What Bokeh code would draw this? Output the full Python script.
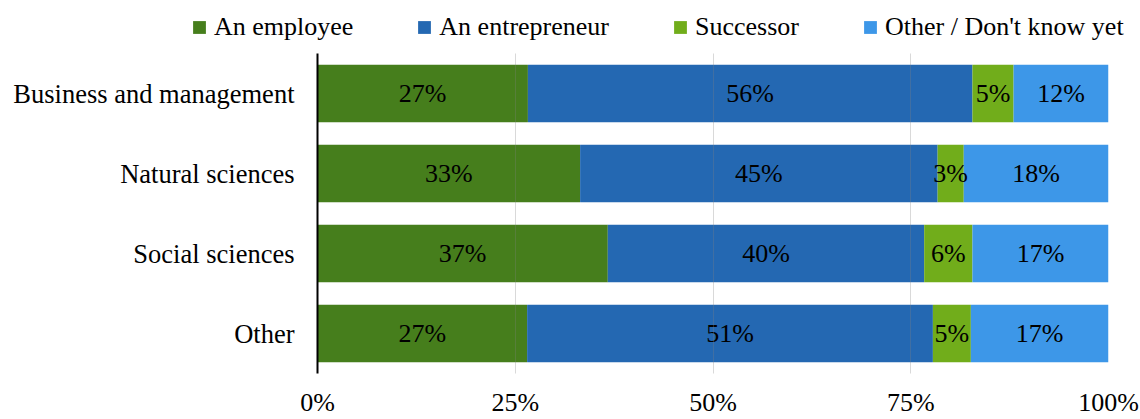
import numpy as np
from bokeh.plotting import figure
from bokeh.layouts import column
from bokeh.models import (ColumnDataSource, FactorRange, Range1d, FixedTicker,
                          Legend, LegendItem)
from bokeh.core.properties import value
from bokeh.embed import file_html
from bokeh.resources import INLINE

# ---- data ----
categories = ["Business and management", "Natural sciences", "Social sciences", "Other"]
series = ["An employee", "An entrepreneur", "Successor", "Other / Don't know yet"]
employee = [26.6, 33.2, 36.7, 26.5]
entrepreneur = [56.2, 45.2, 40.0, 51.3]
successor = [5.2, 3.3, 6.1, 4.8]
other_dk = [12.0, 18.3, 17.2, 17.4]
employee_lbl = ["27%", "33%", "37%", "27%"]
entrepreneur_lbl = ["56%", "45%", "40%", "51%"]
successor_lbl = ["5%", "3%", "6%", "5%"]
other_dk_lbl = ["12%", "18%", "17%", "17%"]
tick_values = [0, 25, 50, 75, 100]
tick_labels = ["0%", "25%", "50%", "75%", "100%"]

colors = ["#467E1C", "#2468B2", "#71AD1B", "#3D97E8"]
keys = ["employee", "entrepreneur", "successor", "other_dk"]
FONT = "Liberation Serif"

src = ColumnDataSource(dict(cat=categories, employee=employee, entrepreneur=entrepreneur,
                            successor=successor, other_dk=other_dk))

# ---- legend strip ----
lg = figure(width=1140, height=53, output_backend="svg", toolbar_location=None,
            x_range=Range1d(0, 1), y_range=Range1d(0, 1),
            x_axis_type=None, y_axis_type=None,
            min_border_left=0, min_border_right=0, min_border_top=0, min_border_bottom=0)
lg.frame_align = False
lg.outline_line_color = None
lg.grid.grid_line_color = None
# zero-width proxy bars: only used to give the legend its swatches
dummy = [lg.hbar(y=[0.5], left=[0], right=[0], height=0, fill_color=c, line_color=None)
         for c in colors]
legend = Legend(items=[LegendItem(label=s, renderers=[r]) for s, r in zip(series, dummy)],
                orientation="horizontal", location=(191, 11),
                glyph_width=16, glyph_height=16, label_standoff=7, spacing=63,
                padding=0, margin=0, border_line_color=None, background_fill_alpha=0,
                label_text_font=FONT, label_text_font_size="26px", label_text_color="#000000")
lg.add_layout(legend, "center")

# ---- main chart ----
p = figure(width=1140, height=366, output_backend="svg", toolbar_location=None,
           y_range=FactorRange(factors=list(reversed(categories)), range_padding=0),
           x_range=Range1d(0, 100),
           min_border_left=317, min_border_right=32, min_border_top=0, min_border_bottom=43)
p.frame_align = False
p.outline_line_color = None

renderers = p.hbar_stack(keys, y="cat", height=0.717, color=colors, line_color=None, source=src)

# bar labels
vals = np.array([employee, entrepreneur, successor, other_dk], dtype=float)
lbls = [employee_lbl, entrepreneur_lbl, successor_lbl, other_dk_lbl]
cum = np.cumsum(vals, axis=0)
left = cum - vals
xs, ys, ts = [], [], []
for i in range(len(series)):
    for j, c in enumerate(categories):
        xs.append(float(left[i, j] + vals[i, j] / 2))
        ys.append(c)
        ts.append(lbls[i][j])
p.text(x=xs, y=ys, text=ts, text_align="center", text_baseline="middle",
       text_font=value(FONT), text_font_size="26px", text_color="#000000")

# grid
p.ygrid.grid_line_color = None
p.xgrid.ticker = FixedTicker(ticks=tick_values)
p.xgrid.grid_line_color = "#808080"
p.xgrid.grid_line_alpha = 0.3
p.xgrid.level = "overlay"

# x axis
p.xaxis.ticker = FixedTicker(ticks=tick_values)
p.xaxis.major_label_overrides = {v: t for v, t in zip(tick_values, tick_labels)}
p.xaxis.axis_line_color = None
p.xaxis.major_tick_line_color = None
p.xaxis.minor_tick_line_color = None
p.xaxis.major_tick_out = 0
p.xaxis.major_tick_in = 0
p.xaxis.major_label_standoff = 14
p.xaxis.major_label_text_font = FONT
p.xaxis.major_label_text_font_size = "26px"
p.xaxis.major_label_text_color = "#000000"

# y axis
p.yaxis.axis_line_color = "#000000"
p.yaxis.axis_line_width = 2
p.yaxis.major_tick_line_color = None
p.yaxis.minor_tick_line_color = None
p.yaxis.major_tick_out = 0
p.yaxis.major_tick_in = 0
p.yaxis.major_label_standoff = 23
p.yaxis.major_label_text_font = FONT
p.yaxis.major_label_text_font_size = "26.5px"
p.yaxis.major_label_text_color = "#000000"

layout = column(lg, p, spacing=0)
open("out.html", "w").write(file_html(layout, INLINE))
